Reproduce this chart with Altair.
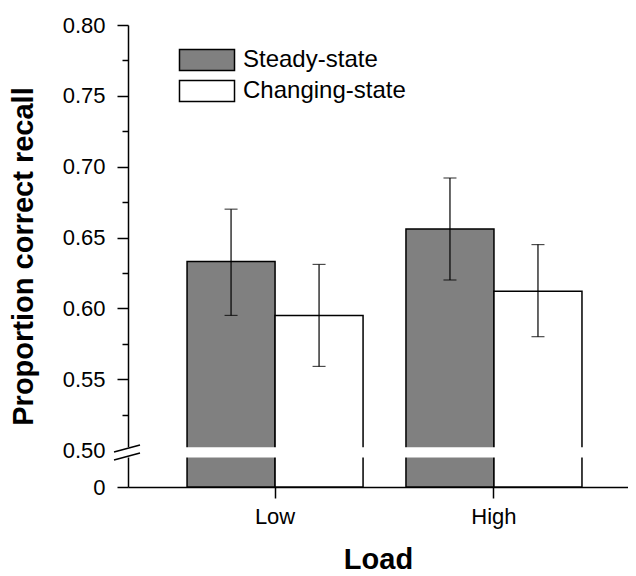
import altair as alt
import pandas as pd

# ---- data ----
loads = ["Low", "High"]
conditions = ["Steady-state", "Changing-state"]
steady_mean = [0.633, 0.656]
changing_mean = [0.595, 0.612]
steady_lo = [0.595, 0.620]
steady_hi = [0.670, 0.692]
changing_lo = [0.559, 0.580]
changing_hi = [0.631, 0.645]

y_ticks = [0, 0.50, 0.55, 0.60, 0.65, 0.70, 0.75, 0.80]
y_minor = [0.525, 0.575, 0.625, 0.675, 0.725, 0.775]
break_band = [0.40, 0.502]           # white gap of the axis break
slash_start = [0.473, 0.365]         # break marks (lower-left end)
slash_end = [0.5035, 0.459]          # break marks (upper-right end)

rows = []
for i, ld in enumerate(loads):
    rows.append(dict(load=ld, cond=conditions[0], mean=steady_mean[i], lo=steady_lo[i], hi=steady_hi[i]))
    rows.append(dict(load=ld, cond=conditions[1], mean=changing_mean[i], lo=changing_lo[i], hi=changing_hi[i]))
df = pd.DataFrame(rows)
band_df = pd.DataFrame({"b0": [break_band[0]], "b1": [break_band[1]]})
slash_df = pd.DataFrame({"s0": slash_start, "s1": slash_end})

FONT = "Liberation Sans"

# broken axis: piecewise-linear scale, 0..0.5 squeezed in a short segment
yscale = alt.Scale(domain=[0, 0.5, 0.8],
                   range=[{"expr": "height"}, {"expr": "height - 37"}, 0])
xscale = alt.Scale(paddingInner=0.196, paddingOuter=0.24, align=0.562)

x_axis = alt.Axis(title="Load", titleFontSize=29, titleFontWeight="bold", titleColor="black",
                  titlePadding=18, labelFontSize=22, labelColor="black", labelAngle=0,
                  labelPadding=8, tickSize=11, tickWidth=1.5, tickColor="black",
                  domainWidth=1.5, domainColor="black", grid=False)
X = alt.X("load:N", sort=loads, scale=xscale, axis=x_axis)
XO = alt.XOffset("cond:N", sort=conditions, scale=alt.Scale(paddingInner=0, paddingOuter=0))

main_y_axis = alt.Axis(values=y_ticks,
                       labelExpr="datum.value == 0 ? '0' : format(datum.value, '.2f')",
                       title="Proportion correct recall", titleFontSize=29, titleFontWeight="bold",
                       titleColor="black", titlePadding=24,
                       labelFontSize=22, labelColor="black", labelPadding=12,
                       tickSize=11, tickWidth=1.5, tickColor="black",
                       tickOpacity={"condition": {"test": "datum.value == 0.5", "value": 0}, "value": 1},
                       domainWidth=1.5, domainColor="black", grid=False)
minor_y_axis = alt.Axis(values=y_minor, orient="left", labels=False, domain=False, title=None,
                        tickSize=6, tickWidth=1.5, tickColor="black", grid=False)

bars = alt.Chart(df).mark_bar(stroke="black", strokeWidth=1.5).encode(
    x=X, xOffset=XO,
    y=alt.Y("mean:Q", scale=yscale, axis=main_y_axis),
    color=alt.Color("cond:N",
                    scale=alt.Scale(domain=conditions, range=["#808080", "#ffffff"]),
                    legend=alt.Legend(title=None, orient="none", legendX=67, legendY=23,
                                      symbolType="M-2.62,-1H2.62V1H-2.62Z", symbolSize=441,
                                      symbolStrokeColor="black", symbolStrokeWidth=1.5,
                                      labelFontSize=24, labelColor="black", labelFont=FONT,
                                      labelLimit=400,
                                      labelOffset=24, rowPadding=3, padding=0)),
)

band = alt.Chart(band_df).mark_rect(color="white").encode(
    x=alt.value(-4), x2=alt.value("width"),
    y=alt.Y("b0:Q", scale=yscale, axis=None), y2="b1:Q",
)

slashes = alt.Chart(slash_df).mark_rule(color="black", strokeWidth=1.5).encode(
    x=alt.value(-14), x2=alt.value(12),
    y=alt.Y("s0:Q", scale=yscale, axis=None), y2="s1:Q",
)

err = alt.Chart(df).mark_rule(color="black", strokeWidth=1.2).encode(
    x=X, xOffset=XO,
    y=alt.Y("lo:Q", scale=yscale, axis=minor_y_axis), y2="hi:Q",
)

caps = alt.Chart(df).transform_fold(["lo", "hi"], as_=["k", "v"]).mark_tick(
    color="black", thickness=1.2, size=13).encode(
    x=X, xOffset=XO,
    y=alt.Y("v:Q", scale=yscale, axis=None),
)

chart = alt.layer(bars, band, slashes, err, caps).resolve_axis(y="independent").properties(
    width=620, height=566,
    autosize=alt.AutoSizeParams(type="fit", contains="padding"),
    padding={"left": 1, "top": 6, "right": 0, "bottom": 0},
).configure(font=FONT).configure_view(strokeWidth=0)

chart.save("out.html", embed_options={"renderer": "svg", "actions": False})
